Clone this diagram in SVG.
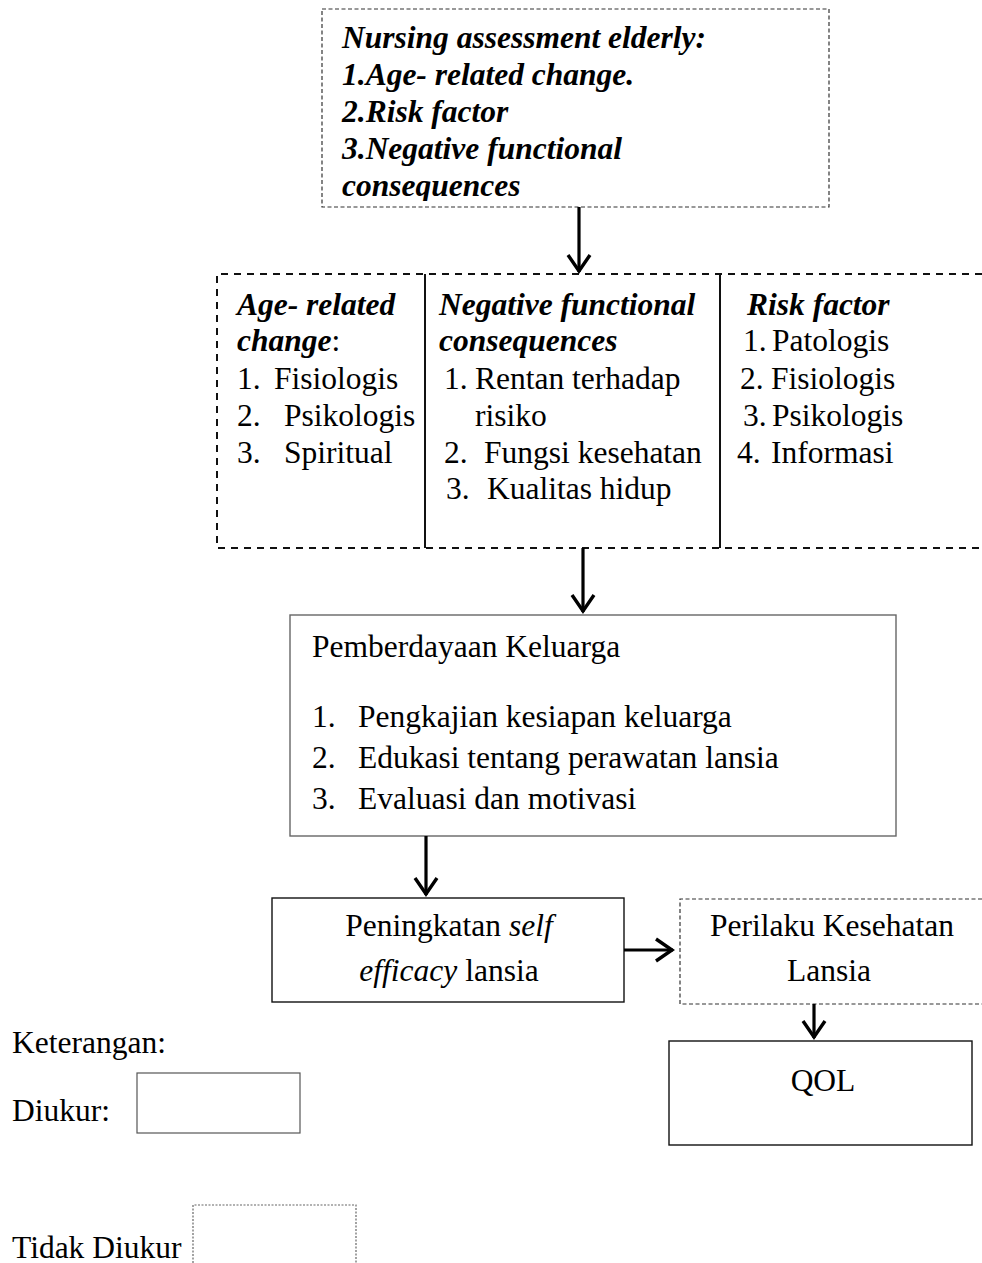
<svg xmlns="http://www.w3.org/2000/svg" width="982" height="1263" viewBox="0 0 982 1263">
<defs>
<style>
.t{font-family:"Liberation Serif","Times New Roman",serif;font-size:31.5px;fill:#000}
.bi{font-weight:bold;font-style:italic}
.i{font-style:italic}
.thin{fill:none;stroke:#333;stroke-width:1.2;stroke-dasharray:4 2.5}
.thick{fill:none;stroke:#111;stroke-width:2;stroke-dasharray:7 6}
.solid{fill:none;stroke:#111;stroke-width:1.4}
.conn{fill:none;stroke:#000;stroke-width:3.2;marker-end:url(#ah)}
</style>
<marker id="ah" markerUnits="userSpaceOnUse" markerWidth="40" markerHeight="40" viewBox="-20 -20 40 40" refX="0" refY="0" orient="auto">
<path d="M-17,-11 L-1,0 L-17,11" fill="none" stroke="#000" stroke-width="3.4"/>
</marker>
<clipPath id="topclip"><rect x="322" y="9" width="507" height="192"/></clipPath>
</defs>
<g id="assessment">
<rect class="thin" x="322" y="9" width="507" height="198"/>
<g clip-path="url(#topclip)">
<text class="t bi" x="342" y="48">Nursing assessment elderly:</text>
<text class="t bi" x="342" y="85">1.Age- related change.</text>
<text class="t bi" x="342" y="122">2.Risk factor</text>
<text class="t bi" x="342" y="159">3.Negative  functional</text>
<text class="t bi" x="342" y="196">consequences</text>
</g>
</g>
<g id="components">
<path class="thick" d="M982,274 H217 V548 H982"/>
<line x1="425" y1="274" x2="425" y2="548" stroke="#111" stroke-width="2"/>
<line x1="720" y1="274" x2="720" y2="548" stroke="#111" stroke-width="2"/>
<text class="t" x="237" y="315"><tspan class="bi">Age- related</tspan></text>
<text class="t" x="237" y="351"><tspan class="bi">change</tspan>:</text>
<text class="t" x="237" y="389">1.</text><text class="t" x="274" y="389">Fisiologis</text>
<text class="t" x="237" y="426">2.</text><text class="t" x="284" y="426">Psikologis</text>
<text class="t" x="237" y="463">3.</text><text class="t" x="284" y="463">Spiritual</text>
<text class="t bi" x="439" y="315">Negative functional</text>
<text class="t bi" x="439" y="351">consequences</text>
<text class="t" x="444" y="389">1.</text><text class="t" x="475" y="389">Rentan terhadap</text>
<text class="t" x="475" y="426">risiko</text>
<text class="t" x="444" y="463">2.</text><text class="t" x="484" y="463">Fungsi kesehatan</text>
<text class="t" x="446" y="499">3.</text><text class="t" x="487" y="499">Kualitas hidup</text>
<text class="t bi" x="747" y="315">Risk factor</text>
<text class="t" x="743" y="351">1.</text><text class="t" x="772" y="351">Patologis</text>
<text class="t" x="740" y="389">2.</text><text class="t" x="771" y="389">Fisiologis</text>
<text class="t" x="743" y="426">3.</text><text class="t" x="772" y="426">Psikologis</text>
<text class="t" x="737" y="463">4.</text><text class="t" x="771" y="463">Informasi</text>
</g>
<g id="pemberdayaan">
<rect x="290" y="615" width="606" height="221" fill="none" stroke="#666" stroke-width="1.4"/>
<text class="t" x="312" y="657">Pemberdayaan Keluarga</text>
<text class="t" x="312" y="727">1.</text><text class="t" x="358" y="727">Pengkajian kesiapan keluarga</text>
<text class="t" x="312" y="768">2.</text><text class="t" x="358" y="768">Edukasi tentang perawatan lansia</text>
<text class="t" x="312" y="809">3.</text><text class="t" x="358" y="809">Evaluasi dan motivasi</text>
</g>
<g id="selfefficacy">
<rect class="solid" x="272" y="898" width="352" height="104"/>
<text class="t" x="449" y="936" text-anchor="middle">Peningkatan <tspan class="i">self</tspan></text>
<text class="t" x="449" y="981" text-anchor="middle"><tspan class="i">efficacy</tspan> lansia</text>
</g>
<g id="perilaku">
<path class="thin" d="M982,899 H680 V1004 H982"/>
<text class="t" x="832" y="936" text-anchor="middle">Perilaku Kesehatan</text>
<text class="t" x="829" y="981" text-anchor="middle">Lansia</text>
</g>
<g id="qol">
<rect class="solid" x="669" y="1041" width="303" height="104"/>
<text class="t" x="823" y="1091" text-anchor="middle">QOL</text>
</g>
<g id="legend">
<text class="t" x="12" y="1053">Keterangan:</text>
<text class="t" x="12" y="1121">Diukur:</text>
<rect x="137" y="1073" width="163" height="60" fill="none" stroke="#555" stroke-width="1.2"/>
<text class="t" x="12" y="1258">Tidak Diukur</text>
<path d="M193,1270 V1205 H356 V1270" fill="none" stroke="#666" stroke-width="1.2" stroke-dasharray="2 1.5"/>
</g>
<g id="connectors">
<path class="conn" d="M579,207 V272"/>
<path class="conn" d="M583,548 V612"/>
<path class="conn" d="M426,836 V895"/>
<path class="conn" d="M624,950 H673"/>
<path class="conn" d="M814,1004 V1038"/>
</g>
</svg>
